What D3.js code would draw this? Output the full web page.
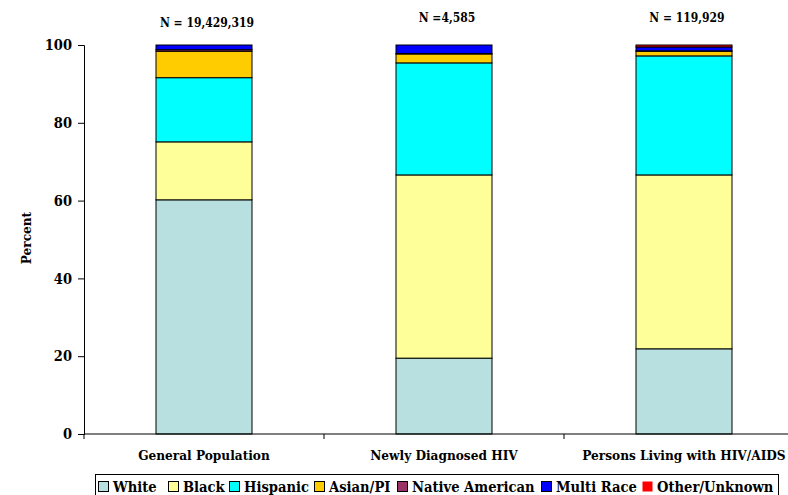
<!DOCTYPE html>
<html><head><meta charset="utf-8">
<script src="https://cdn.jsdelivr.net/npm/d3@7"></script>
<style>body{margin:0;background:#fff}svg{display:block}svg text{font-family:"DejaVu Serif Condensed","DejaVu Serif",serif;font-weight:bold;fill:#000}</style>
</head><body><svg id="c" width="788" height="495"></svg>
<script>
const categories = ["General Population","Newly Diagnosed HIV","Persons Living with HIV/AIDS"];
const nLabels = ["N = 19,429,319","N =4,585","N = 119,929"];
const seriesNames = ["White","Black","Hispanic","Asian/PI","Native American","Multi Race","Other/Unknown"];
const white    = [60.2, 19.5, 21.9];
const black    = [14.9, 47.1, 44.7];
const hispanic = [16.5, 28.8, 30.6];
const asian    = [6.8, 2.3, 1.2];
const native   = [0.4, 0.1, 0.1];
const multi    = [1.2, 2.2, 1.0];
const other    = [0.0, 0.0, 0.5];
const yTicks = [0,20,40,60,80,100];
const colors = ["#B9E0E0","#FFFF99","#00FFFF","#FFCC00","#993366","#0000FF","#FF0000"];

const seriesVals = [white,black,hispanic,asian,native,multi,other];
const rows = categories.map((c,i)=>{const r={cat:c};seriesNames.forEach((s,j)=>r[s]=seriesVals[j][i]);return r;});
const stack = d3.stack().keys(seriesNames)(rows);

const svg = d3.select("#c");
const x = d3.scaleBand().domain(categories).range([84,804]).paddingInner(0.6).paddingOuter(0.3);
const xTicks = d3.scaleBand().domain(categories).range([84,804]);
const y = d3.scaleLinear().domain([0,100]).range([434,45]);

stack.forEach((layer,j)=>{
  svg.append("g").selectAll("rect").data(layer).join("rect")
    .attr("x",d=>x(d.data.cat)).attr("width",x.bandwidth())
    .attr("y",d=>y(d[1])).attr("height",d=>Math.max(0,y(d[0])-y(d[1])))
    .attr("fill",colors[j]).attr("stroke","#000").attr("stroke-width",d=>(d[1]-d[0])>0?1:0);
});

const ya = svg.append("g").attr("transform","translate(84,0)")
  .call(d3.axisLeft(y).tickValues(yTicks).tickSize(6).tickPadding(6));
ya.attr("font-family",null);
ya.select(".domain").attr("stroke","#000");
ya.selectAll("text").attr("font-size",14.5);

const xa = svg.append("g").attr("transform","translate(0,434)");
xa.append("line").attr("x1",84).attr("x2",804).attr("stroke","#000");
xa.selectAll("line.t").data(categories).join("line").attr("class","t")
  .attr("x1",d=>xTicks(d)).attr("x2",d=>xTicks(d)).attr("y1",0).attr("y2",5).attr("stroke","#000");
xa.selectAll("text").data(categories).join("text")
  .attr("x",d=>x(d)+x.bandwidth()/2).attr("y",26).attr("text-anchor","middle")
  .attr("font-size",13.5).text(d=>d);

const nY = [27,22,22];
svg.selectAll("text.n").data(categories).join("text").attr("class","n")
  .attr("x",d=>x(d)+x.bandwidth()/2+3).attr("y",(d,i)=>nY[i]).attr("text-anchor","middle")
  .attr("font-size",12).text((d,i)=>nLabels[i]);

svg.append("text").attr("transform","translate(31,238) rotate(-90)").attr("text-anchor","middle")
  .attr("font-size",13.5).text("Percent");

const lg = svg.append("g");
lg.append("rect").attr("x",95.5).attr("y",474.5).attr("width",683).attr("height",30).attr("fill","#fff").attr("stroke","#000");
const legX = [98,168,229,314,397,541,642];
seriesNames.forEach((s,j)=>{
  lg.append("rect").attr("x",legX[j]+0.5).attr("y",481.5).attr("width",10).attr("height",10)
    .attr("fill",colors[j]).attr("stroke",j===6?"none":"#000");
  lg.append("text").attr("x",legX[j]+15).attr("y",492).attr("font-size",14.6).text(s);
});
</script></body></html>
